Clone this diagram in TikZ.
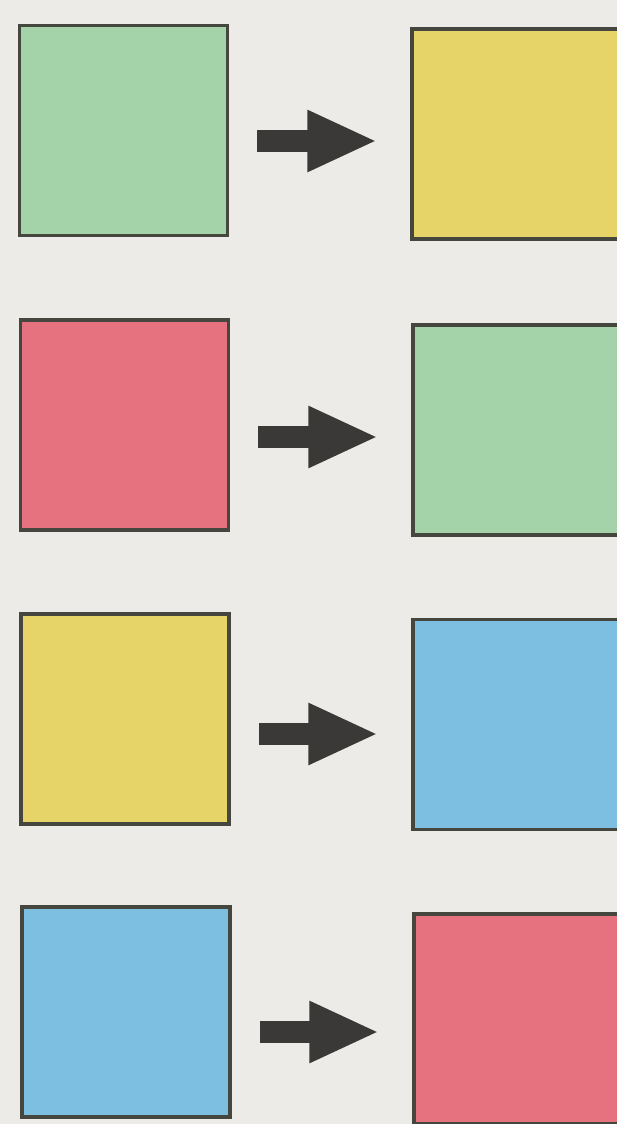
\documentclass[tikz,border=0pt]{standalone}
\usepackage{xcolor}
\usepackage{tikz}
\usetikzlibrary{arrows.meta,positioning,calc}
\definecolor{sqgreen}{HTML}{A4D3A9}
\definecolor{sqyellow}{HTML}{E6D468}
\definecolor{sqred}{HTML}{E5727E}
\definecolor{sqblue}{HTML}{7DBFE0}
\definecolor{sqink}{HTML}{45463E}
\definecolor{sqarrow}{HTML}{3B3937}
\definecolor{sqpaper}{HTML}{ECEBE8}

\begin{document}
\begin{tikzpicture}[x=1pt,y=-1pt,
    sq/.style={draw=sqink,line width=3.5pt,minimum width=208pt,minimum height=210pt,inner sep=0pt},
    pfeil/.style={sqarrow,line width=22pt,-{Triangle[length=70pt,width=57pt]},shorten <=28pt,shorten >=33pt}]
    \fill[sqpaper] (0,0) rectangle (617,1124);
    \useasboundingbox (0,0) rectangle (617,1124);
    % row 1
    \node[sq,fill=sqgreen]  (l1) at (123.5,130.5) {};
    \node[sq,fill=sqyellow] (r1) at (516,134) {};
    \coordinate (a1) at (300,141);
    % row 2
    \node[sq,fill=sqred]    (l2) at (124.5,425) {};
    \node[sq,fill=sqgreen]  (r2) at (517,430) {};
    \coordinate (a2) at (300,437);
    % row 3
    \node[sq,fill=sqyellow] (l3) at (125,719) {};
    \node[sq,fill=sqblue]   (r3) at (517,724.5) {};
    \coordinate (a3) at (300,734);
    % row 4
    \node[sq,fill=sqblue]   (l4) at (126,1012) {};
    \node[sq,fill=sqred]    (r4) at (518,1019) {};
    \coordinate (a4) at (300,1032);
    \draw[pfeil] (l1.east |- a1) -- (r1.west |- a1);
    \draw[pfeil] (l2.east |- a2) -- (r2.west |- a2);
    \draw[pfeil] (l3.east |- a3) -- (r3.west |- a3);
    \draw[pfeil] (l4.east |- a4) -- (r4.west |- a4);
\end{tikzpicture}
\end{document}
